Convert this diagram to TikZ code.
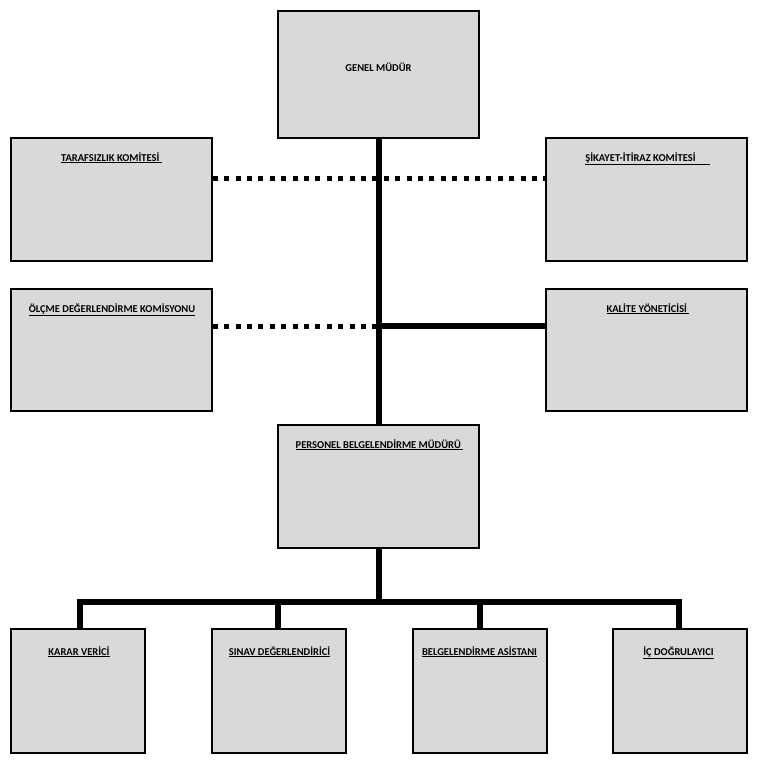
\documentclass[tikz,border=0pt]{standalone}
\usepackage{fontspec}
\setmainfont{Carlito}
\usepackage{xcolor}
\usetikzlibrary{positioning}

\definecolor{boxgray}{HTML}{D9D9D9}

\tikzset{
	unit/.style={draw, fill=boxgray, line width=1.5pt, inner sep=0pt},
	title/.style={font=\bfseries\fontsize{10.5}{12}\selectfont, inner sep=0pt, anchor=base},
	link/.style={line width=6pt},
	dotlink/.style={line width=5pt, dash pattern=on 5pt off 6.4pt}
}

\newcommand{\ulin}[1]{\underline{#1}}

\begin{document}
\begin{tikzpicture}[x=1pt, y=-1pt]

	\useasboundingbox (0,0) rectangle (756,766);

	% upper boxes
	\node [unit, minimum width=201pt, minimum height=127pt] (gm) at (378.5,74.5) {};
	\node [unit, minimum width=201pt, minimum height=123pt] (tk) at (111.5,199.5) {};
	\node [unit, minimum width=201pt, minimum height=123pt] (sk) at (646.5,199.5) {};
	\node [unit, minimum width=201pt, minimum height=122pt] (od) at (111.5,350) {};
	\node [unit, minimum width=201pt, minimum height=122pt] (ky) at (646.5,350) {};
	\node [unit, minimum width=201pt, minimum height=123pt] (pb) at (378.5,486.5) {};

	% lower boxes
	\node [unit, minimum width=134pt, minimum height=124pt] (kv) at (78,691) {};
	\node [unit, minimum width=134pt, minimum height=124pt] (sd) at (279,691) {};
	\node [unit, minimum width=134pt, minimum height=124pt] (ba) at (480,691) {};
	\node [unit, minimum width=134pt, minimum height=124pt] (id) at (680,691) {};

	% titles
	\node [title] (gmt) at (378.5,71) {GENEL MÜDÜR};
	\node [title] (tkt) at (111.5,161) {\ulin{TARAFSIZLIK KOMİTESİ\ }};
	\node [title] (skt) at (647.5,161) {\ulin{ŞİKAYET-İTİRAZ KOMİTESİ\hspace{14pt}}};
	\node [title] (odt) at (112,312) {\ulin{ÖLÇME DEĞERLENDİRME KOMİSYONU}};
	\node [title] (kyt) at (648,312) {\ulin{KALİTE YÖNETİCİSİ\ }};
	\node [title] (pbt) at (379.5,448) {\ulin{PERSONEL BELGELENDİRME MÜDÜRÜ\ }};
	\node [title] (kvt) at (79,655) {\ulin{KARAR VERİCİ}};
	\node [title] (sdt) at (279.5,655) {\ulin{SINAV DEĞERLENDİRİCİ}};
	\node [title] (bat) at (479.5,655) {\ulin{BELGELENDİRME ASİSTANI}};
	\node [title] (idt) at (678.5,655) {\ulin{İÇ DOĞRULAYICI}};

	% main line
	\draw [link] (gm.south) -- (pb.north);
	\coordinate (j1) at (378.5,178);
	\coordinate (j2) at (378.5,326);
	\draw [dotlink] (tk.east |- j1) -- (sk.west |- j1);
	\draw [dotlink] (od.east |- j2) -- (j2);
	\draw [link] (j2) -- (ky.west |- j2);

	% lower tree
	\coordinate (bus) at (378.5,602);
	\coordinate (kvtop) at (79.5,629);
	\coordinate (sdtop) at (278,629);
	\coordinate (idtop) at (678.5,629);
	\draw [link] (pb.south) -- (bus);
	\draw [link] (kvtop) |- (bus) -| (idtop);
	\draw [link] (sdtop) -- (sdtop |- bus);
	\draw [link] (ba.north) -- (ba.north |- bus);

\end{tikzpicture}
\end{document}
